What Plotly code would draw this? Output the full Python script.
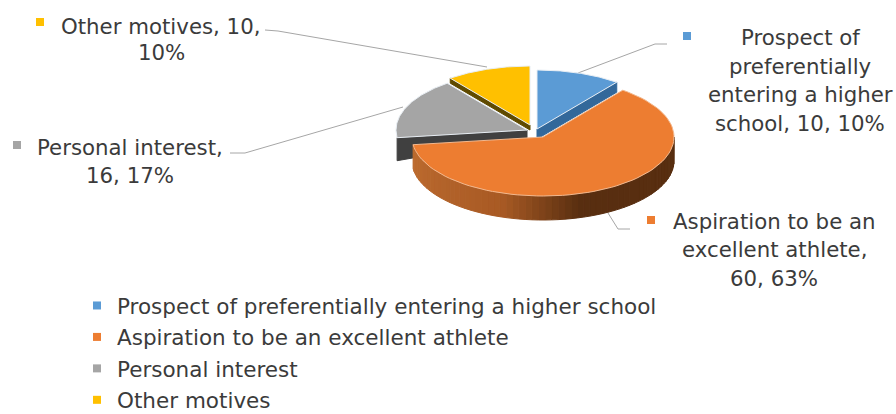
import numpy as np
import plotly.graph_objects as go

# Survey data
categories = ["Prospect of preferentially entering a higher school",
              "Aspiration to be an excellent athlete",
              "Personal interest",
              "Other motives"]
counts = [10, 60, 16, 10]
percents = [10, 63, 17, 10]
label_lines = [
    ["Prospect of", "preferentially", "entering a higher", "school, {c}, {p}%"],
    ["Aspiration to be an", "excellent athlete,", "{c}, {p}%"],
    ["Personal interest,", "{c}, {p}%"],
    ["Other motives, {c},", "{p}%"],
]

# Styling
top_colors = ["#5b9bd5", "#ed7d31", "#a5a5a5", "#ffc000"]
wall_colors = ["#33689a", None, "#404040", "#5f4a00"]
leader_color = "#a6a6a6"
text_color = "#3b3b3b"
font_family = "DejaVu Sans"
label_size = 21.3
legend_size = 21.5

# Pie geometry, in the hidden pixel-sized axes
RX, RY = 131, 59
apex = [(537, 129), (543, 137), (527, 130), (530, 125)]
wall_depth = [(10, 10), None, (8, 23), (5, 5)]
rim_depth = 24

# Slice angles, clockwise from twelve o'clock
total = sum(counts)
edges = np.concatenate([[0], np.cumsum(counts)]) / total * 2 * np.pi


def rim(center, start, stop, n=80):
    t = np.linspace(start, stop, n)
    return center[0] + RX * np.sin(t), center[1] - RY * np.cos(t)


def wedge(i):
    x, y = rim(apex[i], edges[i], edges[i + 1])
    return ([apex[i][0], *x, apex[i][0]], [apex[i][1], *y, apex[i][1]])


def polygon(x, y, color, line=None):
    return go.Scatter(x=list(x), y=list(y), mode="lines", fill="toself", fillcolor=color,
                      line=dict(color=line or color, width=1),
                      hoverinfo="skip", showlegend=False)


def mix(a, b, f):
    return "rgb(%d,%d,%d)" % tuple(int(round(p + (q - p) * f)) for p, q in zip(a, b))


fig = go.Figure()

# Leader lines run beneath the pie
leaders = [
    ([667, 655, 578], [44, 44, 73]),
    ([630, 618, 608], [229, 229, 213]),
    ([230, 245, 403], [153, 153, 107]),
    ([265, 278, 487], [30, 31, 67]),
]
for lx, ly in leaders:
    fig.add_trace(go.Scatter(x=lx, y=ly, mode="lines", line=dict(color=leader_color, width=1),
                             hoverinfo="skip", showlegend=False))


# Cut faces of the slices that stand apart from the big one
def cut_face(i, angle):
    d0, d1 = wall_depth[i]
    cx, cy = apex[i]
    tx, ty = rim(apex[i], angle, angle, 1)
    return polygon([cx, tx[0], tx[0], cx, cx], [cy, ty[0], ty[0] + d1, cy + d0, cy], wall_colors[i])


fig.add_trace(cut_face(3, edges[3]))
fig.add_trace(cut_face(0, edges[1]))
fig.add_trace(cut_face(2, edges[2]))

for i in (3, 2, 0):
    wx, wy = wedge(i)
    fig.add_trace(polygon(wx, wy, top_colors[i], line="#e8eef4"))

# Front wall of the large slice, shaded in narrow strips from right to left
light, mid, dark = (190, 108, 48), (168, 90, 36), (88, 46, 16)
front = np.linspace(np.pi / 2, edges[2], 61)
for a, b in zip(front[:-1], front[1:]):
    f = (a - front[0]) / (front[-1] - front[0])
    if f < 0.42:
        c = mix(dark, dark, 0)
    elif f < 0.62:
        c = mix(dark, mid, (f - 0.42) / 0.20)
    else:
        c = mix(mid, light, (f - 0.62) / 0.38)
    sx, sy = rim(apex[1], a, b, 4)
    fig.add_trace(polygon([*sx, *sx[::-1], sx[0]], [*sy, *(sy[::-1] + rim_depth), sy[0]], c))

wx, wy = wedge(1)
fig.add_trace(polygon(wx, wy, top_colors[1], line="#f3b88e"))

# Data labels: one annotation per line, each with a colour key beside it
label_pos = [
    (800, [37, 66, 94, 123], (687, 36)),
    (774, [221, 249, 278], (651, 220)),
    (130, [147, 175], (17, 145)),
    (161, [26, 52], (40, 22)),
]
annotations = []
for i, (cx, rows, key) in enumerate(label_pos):
    for row, tmpl in zip(rows, label_lines[i]):
        annotations.append(dict(x=cx, y=row, xref="x", yref="y", showarrow=False,
                                text=tmpl.format(c=counts[i], p=percents[i]),
                                font=dict(family=font_family, size=label_size, color=text_color)))
    fig.add_trace(go.Scatter(x=[key[0]], y=[key[1]], mode="markers",
                             marker=dict(symbol="square", size=8, color=top_colors[i]),
                             hoverinfo="skip", showlegend=False))

# Legend entries
for i, name in enumerate(categories):
    fig.add_trace(go.Scatter(x=[None], y=[None], mode="markers", name=name, legendgroup=name,
                             marker=dict(symbol="square", size=8, color=top_colors[i])))

fig.update_layout(
    width=896, height=414, margin=dict(l=0, r=0, t=0, b=0, autoexpand=False),
    paper_bgcolor="white", plot_bgcolor="white",
    xaxis=dict(range=[0, 896], visible=False, fixedrange=True),
    yaxis=dict(range=[414, 0], visible=False, fixedrange=True),
    annotations=annotations,
    legend=dict(x=(97 - 20) / 896, y=1 - 285 / 414, xanchor="left", yanchor="top",
                font=dict(family=font_family, size=legend_size, color=text_color),
                tracegroupgap=0.5, itemwidth=30, bgcolor="rgba(0,0,0,0)"),
)

fig.write_html("out.html")
